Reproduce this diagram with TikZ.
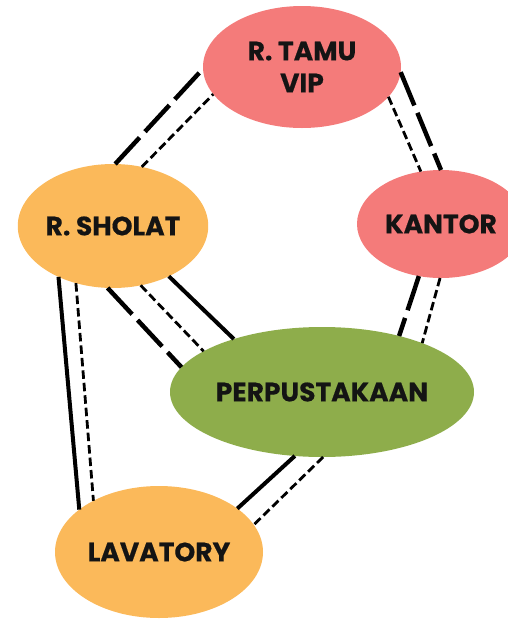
\documentclass[tikz,border=0pt]{standalone}
\usepackage{fontspec}
\setmainfont{Poppins}[BoldFeatures={FakeBold=0.4}]
\usetikzlibrary{shapes.geometric}
\definecolor{salmon}{HTML}{F47B7A}
\definecolor{peach}{HTML}{FBB95A}
\definecolor{moss}{HTML}{8EAD4B}
\begin{document}
\begin{tikzpicture}[x=1pt, y=-1pt,
  room/.style={ellipse, inner sep=0pt, outer sep=0pt, align=center,
    font=\fontsize{26.5}{32}\selectfont\bfseries, text=black!92},
  longdash/.style={line width=4.5pt, dash pattern=on 36pt off 8pt},
  shortdash/.style={line width=2.8pt, dash pattern=on 8.5pt off 4pt},
  solidline/.style={line width=4pt}]
  \useasboundingbox (0,0) rectangle (508,619);
  % rooms
  \node[room, fill=salmon, minimum width=198pt, minimum height=122pt] (tamu) at (302,67) {R. TAMU\\VIP};
  \node[room, fill=salmon, minimum width=168pt, minimum height=108pt] (kantor) at (441,224) {KANTOR};
  \node[room, fill=peach, minimum width=190pt, minimum height=124pt] (sholat) at (113,226) {R. SHOLAT};
  \node[room, fill=moss, minimum width=304pt, minimum height=130pt] (perpus) at (322,392) {PERPUSTAKAAN};
  \node[room, fill=peach, minimum width=208pt, minimum height=132pt] (lavatory) at (159,552) {LAVATORY};
  % links
  \draw[longdash] (sholat.88) -- (tamu.181);
  \draw[shortdash] (sholat.64) -- (tamu.197);
  \draw[longdash] (tamu.-3) -- (kantor.90);
  \draw[shortdash] (tamu.-19) -- (kantor.111);
  \draw[longdash] (kantor.247) -- (perpus.36);
  \draw[shortdash] (kantor.269) -- (perpus.26);
  \draw[longdash] (sholat.265) -- (perpus.170);
  \draw[shortdash] (sholat.-65) -- (perpus.161);
  \draw[solidline] (sholat.-42) -- (perpus.149);
  \draw[solidline] (sholat.223) -- (lavatory.152);
  \draw[shortdash] (sholat.237) -- (lavatory.142);
  \draw[solidline] (perpus.247) -- (lavatory.29);
  \draw[shortdash] (perpus.271) -- (lavatory.16);
\end{tikzpicture}
\end{document}
